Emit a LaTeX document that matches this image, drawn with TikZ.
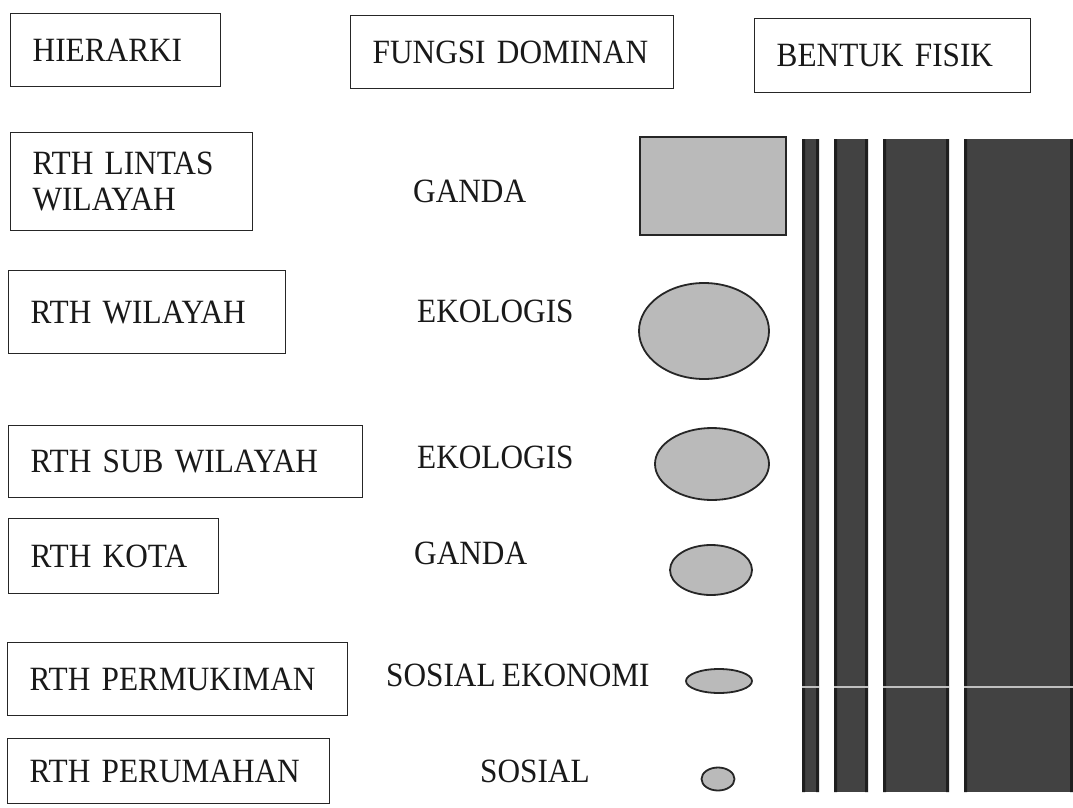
\documentclass[tikz,border=0pt]{standalone}
\usepackage{fontspec}
\setmainfont{Liberation Serif}[FakeStretch=0.92, WordSpace=0.8]
\usetikzlibrary{shapes.geometric}
\begin{document}
\begin{tikzpicture}[x=1pt,y=-1pt,
  txt/.style={font=\fontsize{34pt}{36pt}\selectfont, inner sep=0pt, text=black!90},
  box/.style={txt, draw=black!85, line width=1.4pt, anchor=north west,
              inner xsep=22pt, inner ysep=0pt, align=left},
  lbl/.style={txt, anchor=base west},
  shp/.style={draw=black!85, line width=1.8pt, fill=black!27},
  blob/.style={shp, ellipse, inner sep=0pt},
  bar/.style={fill=black!74, draw=none}
]
\useasboundingbox (0,0) rectangle (1073,808);
\fill[white] (0,0) rectangle (1073,808);

% header boxes
\node[box, minimum width=210pt, minimum height=73pt, text width=166pt] (hier) at (10,13) {HIERARKI};
\node[box, minimum width=323pt, minimum height=73pt, text width=279pt] (fungsi) at (350,15) {FUNGSI DOMINAN};
\node[box, minimum width=276pt, minimum height=74pt, text width=232pt] (bentuk) at (754,18) {BENTUK FISIK};

% hierarchy boxes
\node[box, minimum width=242pt, minimum height=98pt, text width=198pt] (lintas) at (10,132) {RTH LINTAS\\WILAYAH};
\node[box, minimum width=277pt, minimum height=83pt, text width=233pt] (wil) at (8,270) {RTH WILAYAH};
\node[box, minimum width=354pt, minimum height=72pt, text width=310pt] (sub) at (8,425) {RTH SUB WILAYAH};
\node[box, minimum width=210pt, minimum height=75pt, text width=166pt] (kota) at (8,518) {RTH KOTA};
\node[box, minimum width=340pt, minimum height=73pt, text width=296pt] (permu) at (7,642) {RTH PERMUKIMAN};
\node[box, minimum width=322pt, minimum height=65pt, text width=278pt] (peru) at (7,738) {RTH PERUMAHAN};

% dominant functions
\node[lbl] (f1) at (413,202) {GANDA};
\node[lbl] (f2) at (417,322) {EKOLOGIS};
\node[lbl] (f3) at (417,468) {EKOLOGIS};
\node[lbl] (f4) at (414,564) {GANDA};
\node[lbl] (f5) at (386,686) {SOSIAL EKONOMI};
\node[lbl] (f6) at (480,782) {SOSIAL};

% physical forms
\node[shp, rectangle, minimum width=146pt, minimum height=98pt, inner sep=0pt] (r1) at (713,186) {};
\node[blob, minimum width=130pt, minimum height=96pt] (e1) at (704,331) {};
\node[blob, minimum width=114pt, minimum height=72pt] (e2) at (712,464) {};
\node[blob, minimum width=82pt, minimum height=50pt] (e3) at (711,570) {};
\node[blob, minimum width=66pt, minimum height=24pt] (e4) at (719,681) {};
\node[blob, minimum width=33pt, minimum height=23pt] (e5) at (718,779) {};

% bars
\fill[bar] (802,139) rectangle (819,792);
\fill[bar] (834,139) rectangle (868,792);
\fill[bar] (883,139) rectangle (949,792);
\fill[bar] (964,139) rectangle (1073,792);
\foreach \a/\b in {802/819,834/868,883/949,964/1073}
  \fill[black!88] (\a,139) rectangle (\a+3,792) (\b-3,139) rectangle (\b,792);
\foreach \a/\b in {802/819,834/868,883/949,964/1073}
  \draw[white!75!black, line width=2pt] (\a,687) -- (\b,687);
\end{tikzpicture}
\end{document}
